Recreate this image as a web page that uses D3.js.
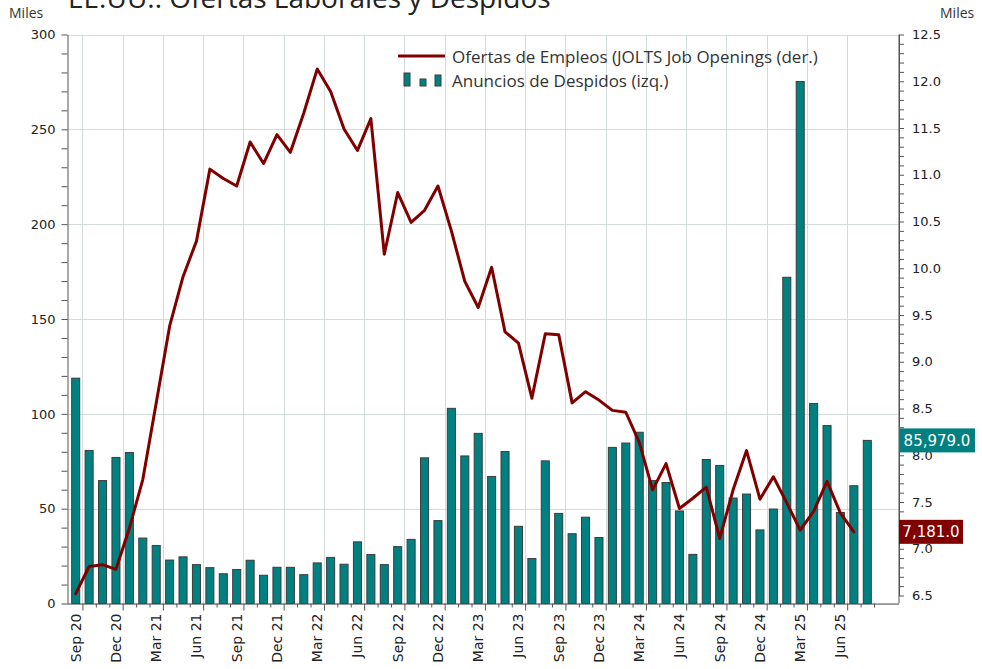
<!DOCTYPE html>
<html>
<head>
<meta charset="utf-8">
<script src="https://cdn.jsdelivr.net/npm/d3@7"></script>
<style>
  body { margin: 0; background: #fff; }
  svg { display: block; }
</style>
</head>
<body>
<svg width="982" height="669"></svg>
<script>
// meses (categorias)
const months = [
  "Sep 20","Oct 20","Nov 20","Dec 20","Jan 21","Feb 21","Mar 21","Apr 21","May 21","Jun 21",
  "Jul 21","Aug 21","Sep 21","Oct 21","Nov 21","Dec 21","Jan 22","Feb 22","Mar 22","Apr 22",
  "May 22","Jun 22","Jul 22","Aug 22","Sep 22","Oct 22","Nov 22","Dec 22","Jan 23","Feb 23",
  "Mar 23","Apr 23","May 23","Jun 23","Jul 23","Aug 23","Sep 23","Oct 23","Nov 23","Dec 23",
  "Jan 24","Feb 24","Mar 24","Apr 24","May 24","Jun 24","Jul 24","Aug 24","Sep 24","Oct 24",
  "Nov 24","Dec 24","Jan 25","Feb 25","Mar 25","Apr 25","May 25","Jun 25","Jul 25","Aug 25"
];

// Anuncios de despidos, miles (eje izq.)
const despidos = [
  118.8, 80.7, 64.8, 77.0, 79.6, 34.5, 30.6, 22.9, 24.6, 20.5,
  18.9, 15.7, 17.9, 22.8, 14.9, 19.1, 19.1, 15.2, 21.4, 24.3,
  20.7, 32.5, 25.8, 20.5, 30.0, 33.8, 76.8, 43.7, 102.9, 77.8,
  89.7, 67.0, 80.1, 40.7, 23.7, 75.2, 47.5, 36.8, 45.5, 34.8,
  82.3, 84.6, 90.3, 64.8, 63.8, 48.8, 25.9, 75.9, 72.8, 55.6,
  57.7, 38.8, 49.8, 172.0, 275.2, 105.4, 93.8, 48.0, 62.1, 86.0
];

// Ofertas de empleo JOLTS, millones (eje der.), Sep 20 - Jul 25
const ofertas = [
  6.52, 6.81, 6.83, 6.78, 7.22, 7.74, 8.56, 9.38, 9.91, 10.29,
  11.06, 10.96, 10.88, 11.35, 11.12, 11.43, 11.24, 11.66, 12.13, 11.89,
  11.49, 11.26, 11.60, 10.15, 10.81, 10.49, 10.62, 10.88, 10.40, 9.86,
  9.58, 10.01, 9.32, 9.20, 8.61, 9.30, 9.29, 8.56, 8.68, 8.59,
  8.48, 8.46, 8.14, 7.63, 7.91, 7.43, 7.54, 7.66, 7.11, 7.63,
  8.05, 7.53, 7.77, 7.49, 7.20, 7.40, 7.72, 7.38, 7.181
];

const leftTicks = [0, 50, 100, 150, 200, 250, 300];
const rightTicks = [6.5, 7.0, 7.5, 8.0, 8.5, 9.0, 9.5, 10.0, 10.5, 11.0, 11.5, 12.0, 12.5];
const lastLabels = ["85,979.0", "7,181.0"];

const title = "EE.UU.: Ofertas Laborales y Despidos";
const legendNames = ["Ofertas de Empleos (JOLTS Job Openings (der.)", "Anuncios de Despidos (izq.)"];

const teal = "#008080", red = "#800000", grid = "#d4dbdb", axisCol = "#555";
const tickFont = "'DejaVu Sans', sans-serif";
const textFont = "'Open Sans', sans-serif";

const svg = d3.select("svg");
svg.append("rect").attr("width", 982).attr("height", 669).attr("fill", "#fff");

const pL = 67.5, pR = 899, pT = 34.5, pB = 603.5;

const x = d3.scaleBand().domain(months).range([69, 874]).paddingInner(0.4).paddingOuter(0.2);
const xc = m => x(m) + x.bandwidth() / 2;
const xEdge = d3.scaleLinear().domain([0, months.length]).range([69, 874]);
const yL = d3.scaleLinear().domain([0, 300]).range([pB, pT]);
const yR = d3.scaleLinear().domain([6.5, 12.5]).range([595.5, pT]);

// grid
const g = svg.append("g");
g.selectAll("line.h").data(leftTicks).enter().append("line")
  .attr("x1", pL).attr("x2", pR)
  .attr("y1", d => Math.round(yL(d)) + 0.5).attr("y2", d => Math.round(yL(d)) + 0.5)
  .attr("stroke", grid).attr("stroke-width", 1);
const vIdx = d3.range(1, months.length + 1).filter(i => i % 3 === 1);
g.selectAll("line.v").data(vIdx).enter().append("line")
  .attr("x1", d => Math.round(xEdge(d)) + 0.5).attr("x2", d => Math.round(xEdge(d)) + 0.5)
  .attr("y1", pT).attr("y2", pB)
  .attr("stroke", grid).attr("stroke-width", 1);

// bars
svg.append("g").selectAll("rect").data(despidos).enter().append("rect")
  .attr("x", (d, i) => x(months[i]))
  .attr("width", x.bandwidth())
  .attr("y", d => yL(d))
  .attr("height", d => yL(0) - yL(d))
  .attr("fill", teal)
  .attr("stroke", "#3c3c3c").attr("stroke-width", 1);

// line
const line = d3.line().x((d, i) => xc(months[i])).y(d => yR(d));
svg.append("path").datum(ofertas)
  .attr("d", line)
  .attr("fill", "none").attr("stroke", red)
  .attr("stroke-width", 3).attr("stroke-linejoin", "round").attr("stroke-linecap", "round");

// axes
function styleAxis(sel) {
  sel.select(".domain").attr("stroke", axisCol);
  sel.selectAll(".tick line").attr("stroke", axisCol);
  sel.selectAll("text").attr("font-family", tickFont).attr("font-size", 13).attr("fill", "#222");
}
const leftMinor = d3.range(0, 301, 10);
svg.append("g").attr("transform", `translate(${pL},0)`)
  .call(d3.axisLeft(yL).tickValues(leftMinor).tickSize(6).tickSizeOuter(0)
    .tickFormat(d => leftTicks.includes(d) ? d : ""))
  .call(styleAxis)
  .call(a => a.selectAll("text").attr("x", -12));

const rightMinor = d3.range(65, 126).map(v => v / 10);
svg.append("g").attr("transform", `translate(${pR},0)`)
  .call(d3.axisRight(yR).tickValues(rightMinor).tickSize(5).tickSizeOuter(0)
    .tickFormat(d => rightTicks.some(t => Math.abs(t - d) < 1e-6) ? d3.format(".1f")(d) : ""))
  .call(styleAxis)
  .call(a => a.selectAll("text").attr("x", 13));
svg.append("line").attr("x1", pR).attr("x2", pR).attr("y1", pT).attr("y2", pB).attr("stroke", axisCol);

const xAx = svg.append("g").attr("transform", `translate(0,${pB})`)
  .call(d3.axisBottom(xEdge).tickValues(d3.range(1, months.length + 1)).tickSize(4).tickSizeOuter(0).tickFormat(""))
  .call(styleAxis);
xAx.select(".domain").attr("d", `M${pL},0.5H${pR}`);
xAx.selectAll(".tick line").filter(d => d % 3 === 1).attr("y2", 7);

svg.append("g").selectAll("text").data(months.filter((m, i) => i % 3 === 0)).enter().append("text")
  .attr("transform", d => `translate(${xc(d)},${pB + 10}) rotate(-90)`)
  .attr("dy", "0.35em")
  .attr("text-anchor", "end")
  .attr("font-family", tickFont).attr("font-size", 14).attr("fill", "#222")
  .text(d => d);

// title and units
svg.append("text").attr("x", 68).attr("y", 8).text(title)
  .attr("font-family", textFont).attr("font-size", 28).attr("fill", "#222");
svg.append("text").attr("x", 9).attr("y", 18).text("Miles")
  .attr("font-family", textFont).attr("font-size", 14).attr("fill", "#333");
svg.append("text").attr("x", 940).attr("y", 18).text("Miles")
  .attr("font-family", textFont).attr("font-size", 14).attr("fill", "#333");

// legend
const lg = svg.append("g");
lg.append("line").attr("x1", 398).attr("x2", 445).attr("y1", 56).attr("y2", 56)
  .attr("stroke", red).attr("stroke-width", 3);
[[404, 73], [420, 79], [435, 75]].forEach(([bx, by]) => {
  lg.append("rect").attr("x", bx).attr("y", by).attr("width", 6).attr("height", 86 - by)
    .attr("fill", teal).attr("stroke", "#3c3c3c").attr("stroke-width", 1);
});
lg.selectAll("text").data(legendNames).enter().append("text")
  .attr("x", 452).attr("y", (d, i) => 57 + i * 24).attr("dy", "0.35em")
  .attr("font-family", textFont).attr("font-size", 17).attr("fill", "#333")
  .text(d => d);

// last value boxes
const boxes = [
  { txt: lastLabels[0], y: yL(despidos[despidos.length - 1]), col: teal, w: 76 },
  { txt: lastLabels[1], y: yR(ofertas[ofertas.length - 1]), col: red, w: 64 }
];
const bg = svg.append("g").selectAll("g").data(boxes).enter().append("g");
bg.append("rect").attr("x", pR).attr("y", d => d.y - 12).attr("width", d => d.w).attr("height", 24)
  .attr("fill", d => d.col);
bg.append("text").attr("x", d => pR + d.w / 2).attr("y", d => d.y).attr("dy", "0.36em")
  .attr("text-anchor", "middle").attr("font-family", tickFont).attr("font-size", 15).attr("fill", "#fff")
  .text(d => d.txt);
</script>
</body>
</html>
